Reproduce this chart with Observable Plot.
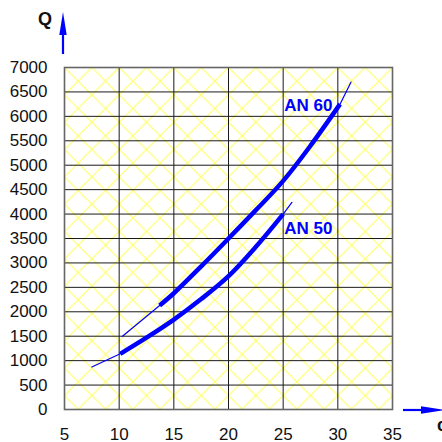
<!DOCTYPE html>
<html><head><meta charset="utf-8">
<script src="https://cdn.jsdelivr.net/npm/d3@7"></script>
<script src="https://cdn.jsdelivr.net/npm/@observablehq/plot@0.6"></script>
<style>html,body{margin:0;padding:0;background:#fff;} svg{display:block;}</style>
</head><body><div id="chart"></div>
<script>
// tick values
const xTicks = [5, 10, 15, 20, 25, 30, 35];
const yTicks = [0, 500, 1000, 1500, 2000, 2500, 3000, 3500, 4000, 4500, 5000, 5500, 6000, 6500, 7000];

// AN 60 curve: thin lead-in, thick main part, thin tail
const an60LeadX = [10.3, 13.7];
const an60LeadQ = [1500, 2130];
const an60MainX = [13.7, 15, 17.5, 20, 22.5, 25, 27.5, 30.2];
const an60MainQ = [2130, 2380, 2930, 3500, 4080, 4680, 5400, 6250];
const an60TailX = [30.2, 31.2];
const an60TailQ = [6250, 6700];

// AN 50 curve
const an50LeadX = [7.5, 10.1];
const an50LeadQ = [870, 1140];
const an50MainX = [10.1, 12.5, 15, 17.5, 20, 22.5, 25];
const an50MainQ = [1140, 1470, 1840, 2260, 2730, 3330, 4000];
const an50TailX = [25, 25.8];
const an50TailQ = [4000, 4240];

// series labels
const labelNames = ["AN 60", "AN 50"];
const labelX = [25.1, 25.1];
const labelQ = [6220, 3700];

const toPts = (xs, qs) => xs.map((x, i) => ({x, q: qs[i]}));
const blue = "#0000ff";
const fmt = d => String(d);

const plot = Plot.plot({
  width: 442, height: 442,
  marginLeft: 64, marginRight: 50, marginTop: 67, marginBottom: 33,
  style: {fontFamily: "'Liberation Sans', Arial, sans-serif", fontSize: "17px", color: "#111", background: "#fff"},
  x: {domain: [5, 35], axis: null},
  y: {domain: [0, 7000], axis: null},
  marks: [
    Plot.frame({fill: "url(#hatch)", stroke: "none"}),
    Plot.ruleX(xTicks, {stroke: "#1a1a1a", strokeWidth: 1}),
    Plot.ruleY(yTicks, {stroke: "#1a1a1a", strokeWidth: 1}),
    Plot.frame({stroke: "#666", strokeWidth: 1.6}),
    Plot.axisY(yTicks, {tickSize: 0, tickPadding: 17, label: null, fontSize: 17, tickFormat: fmt}),
    Plot.axisX(xTicks, {tickSize: 0, tickPadding: 18, label: null, fontSize: 17, tickFormat: fmt}),
    Plot.line(toPts(an60LeadX, an60LeadQ), {x: "x", y: "q", stroke: blue, strokeWidth: 1.2}),
    Plot.line(toPts(an60TailX, an60TailQ), {x: "x", y: "q", stroke: blue, strokeWidth: 1.2}),
    Plot.line(toPts(an50LeadX, an50LeadQ), {x: "x", y: "q", stroke: blue, strokeWidth: 1.2}),
    Plot.line(toPts(an50TailX, an50TailQ), {x: "x", y: "q", stroke: blue, strokeWidth: 1.2}),
    Plot.line(toPts(an60MainX, an60MainQ), {x: "x", y: "q", stroke: blue, strokeWidth: 4.5, curve: "catmull-rom", strokeLinecap: "butt"}),
    Plot.line(toPts(an50MainX, an50MainQ), {x: "x", y: "q", stroke: blue, strokeWidth: 4.5, curve: "catmull-rom", strokeLinecap: "butt"}),
    Plot.text(labelNames.map((n, i) => ({n, x: labelX[i], q: labelQ[i]})), {
      x: "x", y: "q", text: "n", textAnchor: "start", fill: blue, fontWeight: "bold", fontSize: 17
    })
  ]
});

// hatch pattern aligned to the plot frame
const sx = plot.scale("x"), sy = plot.scale("y");
const x0 = sx.apply(5), x1 = sx.apply(35), yTop = sy.apply(7000), yBot = sy.apply(0);
const period = (x1 - x0) / 12;
const svg = d3.select(plot);
const defs = svg.insert("defs", ":first-child");
const pat = defs.append("pattern").attr("id", "hatch").attr("patternUnits", "userSpaceOnUse")
  .attr("x", x0).attr("y", yTop).attr("width", period).attr("height", period);
pat.append("rect").attr("width", period).attr("height", period).attr("fill", "#fff");
pat.append("path")
  .attr("d", `M-2,-2L${period + 2},${period + 2}M${period + 2},-2L-2,${period + 2}`)
  .attr("stroke", "#ffff60").attr("stroke-width", 1.1).attr("fill", "none");

// axis arrows and labels
const deco = svg.append("g");
const ax = x0 - 1;
deco.append("line").attr("x1", ax).attr("x2", ax).attr("y1", yTop - 13).attr("y2", 32).attr("stroke", blue).attr("stroke-width", 2.2);
deco.append("path").attr("d", `M${ax - 3.7},${35}L${ax + 3.7},${35}L${ax},${12}Z`).attr("fill", blue);
deco.append("text").attr("x", 45).attr("y", 25).attr("text-anchor", "middle")
  .style("font-weight", "bold").style("font-size", "18px").attr("fill", "#111").text("Q");
const ay = yBot + 1;
deco.append("line").attr("x1", x1 + 11).attr("x2", 424).attr("y1", ay).attr("y2", ay).attr("stroke", blue).attr("stroke-width", 2.2);
deco.append("path").attr("d", `M421,${ay - 3.7}L421,${ay + 3.7}L445,${ay}Z`).attr("fill", blue);
deco.append("text").attr("x", 437).attr("y", 431).attr("text-anchor", "start")
  .style("font-weight", "bold").style("font-size", "18px").attr("fill", "#111").text("c");

document.getElementById("chart").appendChild(plot);
</script>
</body></html>
